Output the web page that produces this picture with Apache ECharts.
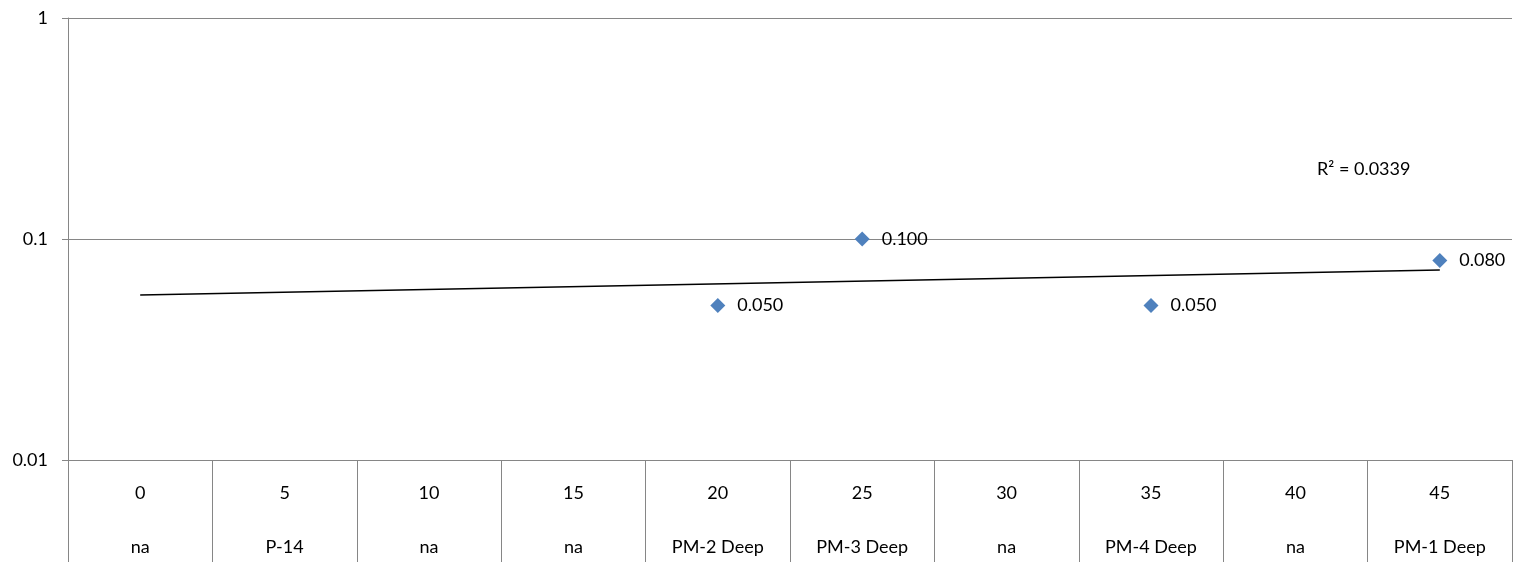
<!DOCTYPE html>
<html>
<head>
<meta charset="utf-8">
<script src="https://cdn.jsdelivr.net/npm/echarts@6/dist/echarts.min.js"></script>
<style>
  html, body { margin: 0; padding: 0; background: #fff; }
  #chart { width: 1518px; height: 562px; }
</style>
</head>
<body>
<div id="chart"></div>
<script>
// depth categories and well names (two label rows)
var depths = ['0', '5', '10', '15', '20', '25', '30', '35', '40', '45']
var wells = ['na', 'P-14', 'na', 'na', 'PM-2 Deep', 'PM-3 Deep', 'na', 'PM-4 Deep', 'na', 'PM-1 Deep']
var values = [null, null, null, null, 0.05, 0.1, null, 0.05, null, 0.08]
// exponential trend line, read at both ends
var trend = [0.0558, null, null, null, null, null, null, null, null, 0.0724]
var rSquared = 'R² = 0.0339'
var yTicks = [0.01, 0.1, 1]

var font = 'Lato, "Open Sans", sans-serif'
var chart = echarts.init(document.getElementById('chart'))

var option = {
    animation: false,
    grid: { left: 68, right: 6, top: 18, bottom: 102, outerBoundsMode: 'none' },
    xAxis: {
        type: 'category',
        data: depths,
        boundaryGap: true,
        axisLine: { lineStyle: { color: '#868686', width: 1 } },
        axisTick: { show: true, length: 102, lineStyle: { color: '#868686' } },
        axisLabel: {
            margin: 6,
            fontFamily: font,
            fontSize: 18,
            color: '#000',
            lineHeight: 54,
            formatter: function (v, i) {
                return v + '\n' + wells[i]
            }
        }
    },
    yAxis: {
        type: 'log',
        logBase: 10,
        min: yTicks[0],
        max: yTicks[yTicks.length - 1],
        axisLine: { show: true, lineStyle: { color: '#868686', width: 1 } },
        axisTick: { show: true, length: 6, lineStyle: { color: '#868686' } },
        splitLine: { show: true, lineStyle: { color: '#868686', width: 1 } },
        axisLabel: {
            margin: 20,
            fontFamily: font,
            fontSize: 18,
            color: '#000',
            formatter: function (v) { return String(v) }
        }
    },
    series: [
        {
            type: 'line',
            data: trend,
            connectNulls: true,
            symbol: 'none',
            lineStyle: { color: '#000', width: 1.3 },
            z: 2
        },
        {
            type: 'scatter',
            data: values,
            symbol: 'diamond',
            symbolSize: 15,
            itemStyle: { color: '#4F81BD', opacity: 1 },
            label: {
                show: true,
                position: 'right',
                distance: 12,
                fontFamily: font,
                fontSize: 18,
                color: '#000',
                formatter: function (p) { return p.value.toFixed(3) }
            },
            z: 3
        }
    ],
    graphic: [
        {
            type: 'text',
            left: 1317,
            top: 160,
            style: { text: rSquared, font: '18px ' + font, fill: '#000' }
        }
    ]
}
chart.setOption(option)
</script>
</body>
</html>
